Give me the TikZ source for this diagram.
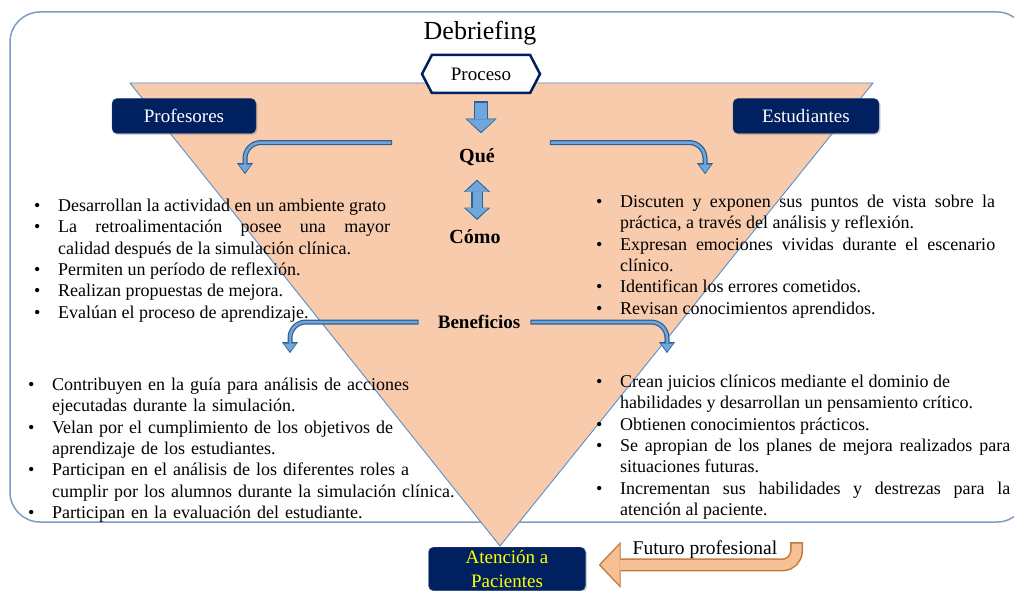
\documentclass[tikz,border=0pt]{standalone}
\usepackage{fontspec}
\setmainfont{Liberation Serif}
\usetikzlibrary{arrows.meta,shapes.symbols,shadows}

\definecolor{peach}{HTML}{F8CBAD}
\definecolor{navy}{HTML}{002060}
\definecolor{frameblue}{HTML}{7F9DC2}
\definecolor{edgeblue}{HTML}{5B8FC7}
\definecolor{arrowdark}{HTML}{2E5F91}
\definecolor{arrowlight}{HTML}{6FA6DC}
\definecolor{orangedark}{HTML}{BF7A3E}
\definecolor{orangelight}{HTML}{F6BF94}
\definecolor{textyellow}{HTML}{FFFF00}

\newcommand{\bul}{\par\noindent\hangindent=24pt\hangafter=1\makebox[24pt][l]{\textbullet}\strut}

\begin{document}
\begin{tikzpicture}[x=1pt,y=-1pt]
    \tikzstyle{navybox}=[rounded corners=5pt, fill=navy, draw=navy!80!white, text=white, font=\fontsize{19}{23}\selectfont, minimum height=35pt, drop shadow={opacity=0.35, shadow xshift=1.5pt, shadow yshift=-1.5pt}]
    \tikzstyle{keyword}=[font=\fontsize{20}{24}\selectfont\bfseries, inner sep=0pt]
    \tikzstyle{list}=[anchor=north west, inner sep=0pt, font=\fontsize{18}{21.3}\selectfont]
    \tikzstyle{bentarrow}=[rounded corners=16pt, line width=2.5pt, draw=arrowlight, -{Triangle[width=12pt,length=8pt,line width=0.1pt]}, shorten >=1.5pt, shorten <=1pt, preaction={draw=arrowdark, line width=5pt, -{Triangle[width=16pt,length=11pt,line width=0.1pt]}, shorten >=0pt, shorten <=0pt}]
    \tikzstyle{blockarrow}=[line width=11.5pt, draw=arrowlight, -{Triangle[width=28pt,length=12.5pt,line width=0.1pt]}, shorten >=1.5pt, shorten <=1.5pt, preaction={draw=arrowdark, line width=14.5pt, -{Triangle[width=31pt,length=14.5pt,line width=0.1pt]}, shorten >=0pt, shorten <=0pt}]
    \tikzstyle{twoway}=[line width=9pt, draw=arrowlight, {Triangle[width=23pt,length=10.5pt,line width=0.1pt]}-{Triangle[width=23pt,length=10.5pt,line width=0.1pt]}, shorten >=1.5pt, shorten <=1.5pt, preaction={draw=arrowdark, line width=12pt, {Triangle[width=26pt,length=12pt,line width=0.1pt]}-{Triangle[width=26pt,length=12pt,line width=0.1pt]}, shorten >=0pt, shorten <=0pt}]
    \tikzstyle{backarrow}=[rounded corners=14pt, line width=10pt, draw=orangelight, -{Triangle[width=40pt,length=19pt,line width=0.1pt]}, shorten >=2pt, shorten <=1.5pt, preaction={draw=orangedark, line width=13pt, -{Triangle[width=46pt,length=22pt,line width=0.1pt]}, shorten >=0pt, shorten <=0pt}]

    \clip (0,0) rectangle (1014,591);
    \draw[frameblue, line width=1.5pt, rounded corners=30pt] (10,12) rectangle (1027,522);
    \draw[edgeblue, fill=peach, line width=0.9pt] (130,83) -- (873,83) -- (500,546) -- cycle;

    \node (title) at (480,33) {\fontsize{26}{30}\selectfont Debriefing};
    \node[signal, signal to=west and east, signal pointer angle=125, draw=navy, line width=2.5pt, fill=white, minimum width=118pt, minimum height=38pt, inner sep=0pt, font=\fontsize{19}{23}\selectfont] (proc) at (481,74) {Proceso};
    \node[navybox, minimum width=144pt] (prof) at (184,116) {Profesores};
    \node[navybox, minimum width=146pt] (estu) at (806,116) {Estudiantes};
    \node[keyword] (que) at (477,157) {Qué};
    \node[keyword] (como) at (475,237) {Cómo};
    \node[keyword, font=\fontsize{19}{23}\selectfont\bfseries] (benef) at (479,322) {Beneficios};

    \node[list, text width=356pt, align=justify] (ptop) at (34,190) {\bul Desarrollan la actividad en un ambiente grato
        \bul La retroalimentación posee una mayor \linebreak calidad después de la simulación clínica.
        \bul Permiten un período de reflexión.
        \bul Realizan propuestas de mejora.
        \bul Evalúan el proceso de aprendizaje.\par};
    \node[list, text width=399pt, align=justify] (etop) at (596,186) {\bul Discuten y exponen sus puntos de vista sobre la \linebreak práctica, a través del análisis y reflexión.
        \bul Expresan emociones vividas durante el escenario \linebreak clínico.
        \bul Identifican los errores cometidos.
        \bul Revisan conocimientos aprendidos.\par};
    \node[list, text width=430pt, align=left] (pben) at (28,369) {\bul Contribuyen en la guía para análisis de acciones\newline ejecutadas durante la simulación.
        \bul Velan por el cumplimiento de los objetivos de\newline aprendizaje de los estudiantes.
        \bul Participan en el análisis de los diferentes roles a\newline cumplir por los alumnos durante la simulación clínica.
        \bul Participan en la evaluación del estudiante.\par};
    \node[list, text width=414pt, align=justify] (eben) at (596,366) {\bul Crean juicios clínicos mediante el dominio de\newline habilidades y desarrollan un pensamiento crítico.
        \bul Obtienen conocimientos prácticos.
        \bul Se apropian de los planes de mejora realizados para \linebreak situaciones futuras.
        \bul Incrementan sus habilidades y destrezas para la \linebreak atención al paciente.\par};

    \node[navybox, anchor=north, text=textyellow, align=center, minimum width=157pt, inner ysep=3pt, font=\fontsize{19}{24}\selectfont] (aten) at (507,547) {Atención a\\Pacientes};
    \node[inner sep=0pt, font=\fontsize{19.5}{23}\selectfont] (fut) at (705,550) {Futuro profesional};

    \coordinate (qleft) at (245,174);
    \coordinate (qright) at (705,174);
    \coordinate (bleft) at (290,353);
    \coordinate (bright) at (667,353);

    \draw[blockarrow] ([yshift=-7pt]proc.south) -- ([yshift=15pt]proc.south |- que.north);
    \draw[twoway] ([yshift=-14pt]que.south) -- ([yshift=10pt]que.south |- como.north);
    \draw[bentarrow] ([xshift=-67pt,yshift=14.5pt]que.west) -| (qleft);
    \draw[bentarrow] ([xshift=55pt,yshift=14.5pt]que.east) -| (qright);
    \draw[bentarrow] ([xshift=-19pt]benef.west) -| (bleft);
    \draw[bentarrow] ([xshift=10pt]benef.east) -| (bright);
    \draw[backarrow] ([xshift=19pt,yshift=8pt]fut.east) |- ([xshift=13pt,yshift=4pt]aten.east);

\end{tikzpicture}
\end{document}
